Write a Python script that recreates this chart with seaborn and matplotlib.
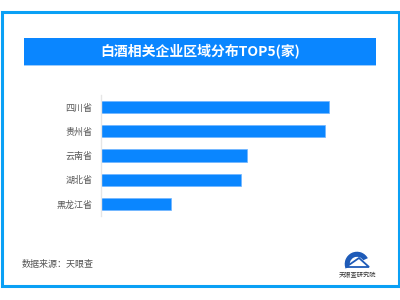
import matplotlib
matplotlib.use("Agg")
import matplotlib.pyplot as plt
import seaborn as sns
import pandas as pd
from matplotlib.patches import Rectangle, Wedge, Polygon

provinces = ["四川省", "贵州省", "云南省", "湖北省", "黑龙江省"]
counts = [2277, 2240, 1460, 1397, 700]
title = "白酒相关企业区域分布TOP5(家)"
source = "数据来源：天眼查"

sns.set_theme(style="white")
plt.rcParams['font.family'] = ['Noto Sans CJK SC', 'DejaVu Sans']

df = pd.DataFrame({"province": provinces, "count": counts})

fig = plt.figure(figsize=(4, 3), dpi=100)
fig.patch.set_facecolor("white")

# outer frame
fig.add_artist(Rectangle((1.5/400, 1 - 286/300), 397/400, (286 - 12)/300,
                         transform=fig.transFigure, fill=False,
                         edgecolor="#0AA0F5", linewidth=2.2))
# title bar
fig.add_artist(Rectangle((24/400, 1 - 65/300), 352/400, 27/300,
                         transform=fig.transFigure, facecolor="#0A86FF",
                         edgecolor="none"))
fig.add_artist(Rectangle((24/400, 1 - 66/300), 352/400, 1/300,
                         transform=fig.transFigure, facecolor="#9CCBFA",
                         edgecolor="none"))
fig.text(200/400, 1 - 51.5/300, title, ha="center", va="center",
         color="white", fontsize=10, fontweight="bold")

ax = fig.add_axes([101/400, 1 - 216/300, 250/400, (216 - 95)/300])
sns.barplot(data=df, x="count", y="province", color="#0A86FF",
            width=0.5, ax=ax, saturation=1, edgecolor="#6FB5FF", linewidth=0.5)
ax.set_xlim(0, 2500)
ax.set_xlabel("")
ax.set_ylabel("")
ax.set_xticks([])
for s in ["top", "right", "bottom"]:
    ax.spines[s].set_visible(False)
ax.spines["left"].set_color("#E6E6E6")
ax.spines["left"].set_linewidth(1)
ax.tick_params(axis="y", length=0, pad=6, labelsize=6.5, labelcolor="#555555")

fig.text(22/400, 1 - 265/300, source, ha="left", va="center",
         color="#555555", fontsize=6.5)

# logo approximation
lax = fig.add_axes([337/400, 1 - 278/300, 40/400, 34/300])
lax.set_xlim(0, 40)
lax.set_ylim(0, 34)
lax.axis("off")
lax.add_patch(Wedge((20, 14), 13, 25, 205, width=6.5, facecolor="#1E5BB8"))
lax.add_patch(Polygon([[9, 11], [22, 20], [32, 11]], closed=True,
                      facecolor="white", edgecolor="#1E5BB8", linewidth=1.3))
lax.text(20, 3, "天眼查研究院", ha="center", va="center", fontsize=4.5,
         color="#333333")

fig.savefig("out.png", dpi=100)
